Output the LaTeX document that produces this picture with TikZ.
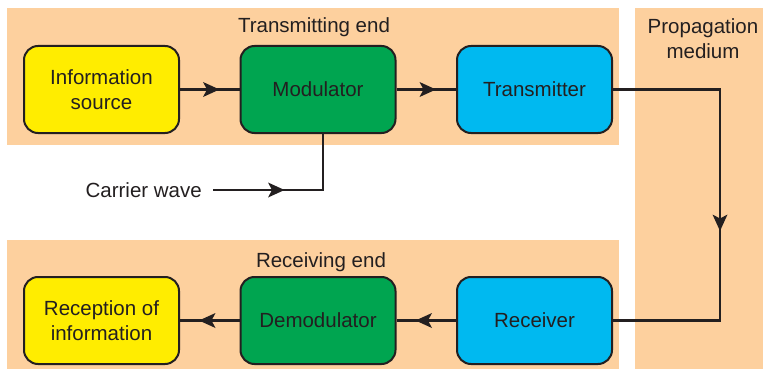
\documentclass[tikz,border=0pt]{standalone}
\usepackage{fontspec}
\setmainfont{Liberation Sans}
\usetikzlibrary{arrows.meta,decorations.markings}
\definecolor{band}{HTML}{FDD09E}
\definecolor{ylw}{HTML}{FFED00}
\definecolor{grn}{HTML}{00A550}
\definecolor{cyn}{HTML}{00B9F0}
\definecolor{ink}{HTML}{231F20}
\newcommand{\lblfont}{\fontsize{20.5pt}{25pt}\selectfont}
\tikzset{
  blk/.style={draw=ink, line width=2pt, rounded corners=14pt, minimum width=155pt,
    minimum height=87pt, align=center, font=\lblfont, text=ink, inner sep=0pt},
  lbl/.style={font=\lblfont, text=ink, align=center, inner sep=0pt},
  conn/.style={draw=ink, line width=2.5pt},
  tipat/.style={postaction={decorate}, decoration={markings,
    mark=at position #1 with {\fill[ink] (1.5,0) -- (-15,7.5) -- (-11,0) -- (-15,-7.5) -- cycle;}}},
}
\begin{document}
\begin{tikzpicture}[x=1pt,y=-1pt]
\useasboundingbox (0,0) rectangle (763,369);
\fill[white] (0,0) rectangle (763,369);
% bands
\fill[band] (7,8) rectangle (619,145);
\fill[band] (7,240) rectangle (619,369);
\fill[band] (635,8) rectangle (763,369);
% labels
\node[lbl] (tend) at (314,27) {Transmitting end};
\node[lbl] (rend) at (321,262) {Receiving end};
\node[lbl] (prop) at (703,39) {Propagation\\medium};
% blocks
\node[blk, fill=ylw] (info) at (101.5,89.5) {Information\\source};
\node[blk, fill=grn] (mod) at (318,89.5) {Modulator};
\node[blk, fill=cyn] (trans) at (534.5,89.5) {Transmitter};
\node[blk, fill=ylw] (recp) at (101.5,320.5) {Reception of\\information};
\node[blk, fill=grn] (demod) at (318,320.5) {Demodulator};
\node[blk, fill=cyn] (recv) at (534.5,320.5) {Receiver};
\node[lbl, anchor=east] (cw) at (202,190) {Carrier wave};
\coordinate (cws) at (213,190);
\coordinate (c1) at (720,89.5);
\coordinate (c2) at (720,320.5);
% connectors
\draw[conn, tipat=38pt] (info) -- (mod);
\draw[conn, tipat=38pt] (mod) -- (trans);
\draw[conn, tipat=39pt] (recv) -- (demod);
\draw[conn, tipat=39pt] (demod) -- (recp);
\draw[conn, tipat=70pt] (cws) -| ([xshift=5pt]mod.south);
\draw[conn, tipat=247pt] (trans.east) -- (c1) -- (c2) -- (recv.east);
\end{tikzpicture}
\end{document}
